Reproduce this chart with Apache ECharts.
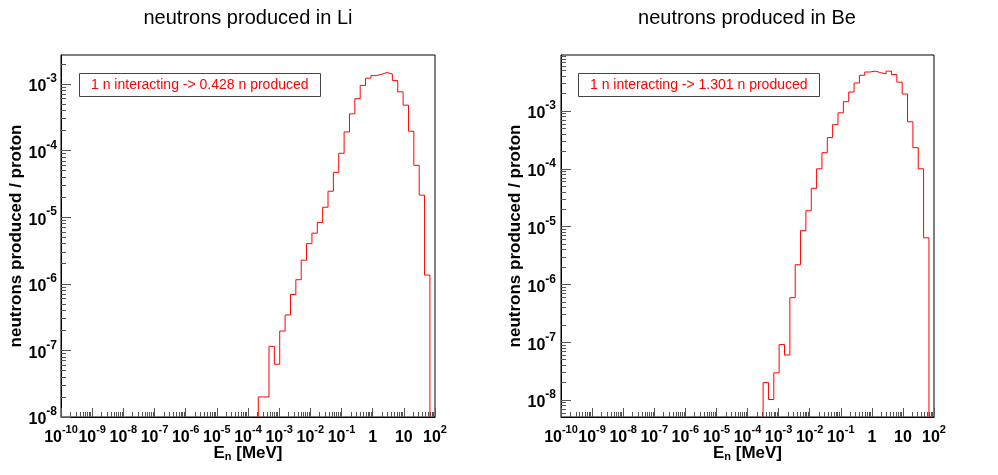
<!DOCTYPE html>
<html>
<head>
<meta charset="utf-8">
<script src="https://cdn.jsdelivr.net/npm/echarts@6/dist/echarts.min.js"></script>
<style>
html,body{margin:0;padding:0;background:#fff;}
#chart{width:998px;height:475px;}
</style>
</head>
<body>
<div id="chart"></div>
<script>
// ---------------- data ----------------
const TITLE_LI = 'neutrons produced in Li';
const TITLE_BE = 'neutrons produced in Be';
const LI_RATIO = '0.428';
const BE_RATIO = '1.301';
const X_NAME_MAIN = 'E';
const X_NAME_SUB = 'n';
const X_NAME_UNIT = ' [MeV]';
const Y_NAME = 'neutrons produced / proton';

// bin edges in MeV (log-spaced histogram)
const EDGES = [2.138e-4, 3.177e-4, 4.721e-4, 7.015e-4, 1.042e-3, 1.549e-3, 2.307e-3, 3.428e-3,
  5.093e-3, 7.568e-3, 1.125e-2, 1.671e-2, 2.483e-2, 3.690e-2, 5.483e-2, 8.16e-2,
  0.1213, 0.1803, 0.2679, 0.3981, 0.5916, 0.879, 1.306, 1.941,
  2.884, 4.29, 6.38, 9.48, 14.09, 20.94, 31.12, 46.24, 68.7];

const LI_VALUES = [2.0e-8, 2.0e-8, 1.15e-7, 6.2e-8, 1.95e-7, 3.4e-7, 6.9e-7, 1.15e-6,
  2.26e-6, 4.0e-6, 5.75e-6, 8.3e-6, 1.41e-5, 2.45e-5, 4.7e-5, 9.1e-5,
  1.9e-4, 3.55e-4, 6.0e-4, 9.5e-4, 1.22e-3, 1.33e-3, 1.40e-3, 1.48e-3,
  1.41e-3, 1.12e-3, 7.6e-4, 4.8e-4, 1.95e-4, 6.0e-5, 2.14e-5, 1.35e-6];

const BE_VALUES = [0, 2.0e-8, 1.02e-8, 2.95e-8, 9.1e-8, 6.0e-8, 5.9e-7, 2.19e-6,
  8.5e-6, 1.88e-5, 4.6e-5, 1.0e-4, 1.9e-4, 3.47e-4, 5.8e-4, 9.3e-4,
  1.45e-3, 2.13e-3, 3.05e-3, 4.15e-3, 4.73e-3, 4.9e-3, 4.6e-3, 4.4e-3,
  4.9e-3, 4.27e-3, 3.16e-3, 1.97e-3, 6.5e-4, 2.32e-4, 1.0e-4, 6.4e-6];

// axis ranges (exponents of 10) and tick labels
const X_RANGE = [-10, 2];
const X_TICK_EXP = [-10, -9, -8, -7, -6, -5, -4, -3, -2, -1, 0, 1, 2];
const Y_RANGE_LI = [-8, -2.566];
const Y_RANGE_BE = [-8.294, -2.031];
const Y_TICK_EXP = [-8, -7, -6, -5, -4, -3];

// ---------------- helpers ----------------
const FONT = '"Liberation Sans", Arial, Helvetica, sans-serif';
function richSet(base, sup) {
  return {
    b: {fontFamily: FONT, fontSize: base, fontWeight: 'bold', color: '#000', lineHeight: 22, verticalAlign: 'bottom'},
    s: {fontFamily: FONT, fontSize: sup, fontWeight: 'bold', color: '#000', lineHeight: sup, verticalAlign: 'top'}
  };
}
function powLabel(v) {
  const e = Math.round(v);
  if (e === 0) return '{b|1}';
  if (e === 1) return '{b|10}';
  return '{b|10}{s|' + e + '}';
}
function minorList(range) {
  const out = [];
  for (let n = Math.floor(range[0]); n < Math.ceil(range[1]); n++) {
    for (let k = 2; k <= 9; k++) {
      const v = n + Math.log10(k);
      if (v >= range[0] && v <= range[1]) out.push(v);
    }
  }
  return out;
}
function stepPoints(edges, vals, floor) {
  const pts = [];
  for (let i = 0; i < vals.length; i++) {
    const v = vals[i];
    if (pts.length === 0) {
      if (!(v > 0)) continue;
      pts.push([edges[i], floor]);
    }
    const y = v > 0 ? v : floor;
    pts.push([edges[i], y]);
    pts.push([edges[i + 1], y]);
  }
  pts.push([edges[edges.length - 1], floor]);
  return pts;
}
const TICK_COLOR = '#555';

function xAxes(gi) {
  return [
    {type: 'log', gridIndex: gi, min: Math.pow(10, X_RANGE[0]), max: Math.pow(10, X_RANGE[1]), show: false},
    {type: 'value', gridIndex: gi, min: X_RANGE[0], max: X_RANGE[1], position: 'bottom',
      axisLine: {show: true, onZero: false, lineStyle: {color: '#000', width: 1}},
      splitLine: {show: false},
      axisTick: {show: true, inside: true, length: 9, customValues: X_TICK_EXP, lineStyle: {color: TICK_COLOR}},
      axisLabel: {show: true, customValues: X_TICK_EXP, margin: 7, formatter: powLabel, rich: richSet(16, 11),
        hideOverlap: false, showMinLabel: true, showMaxLabel: true},
      name: '{e|' + X_NAME_MAIN + '}{n|' + X_NAME_SUB + '}{e|' + X_NAME_UNIT + '}',
      nameLocation: 'middle', nameGap: 25, nameMoveOverlap: false,
      nameTextStyle: {rich: {
        e: {fontFamily: FONT, fontSize: 17, fontWeight: 'bold', color: '#000', lineHeight: 20, verticalAlign: 'bottom'},
        n: {fontFamily: FONT, fontSize: 11, fontWeight: 'bold', color: '#000', lineHeight: 11, verticalAlign: 'bottom'}
      }}
    },
    {type: 'value', gridIndex: gi, min: X_RANGE[0], max: X_RANGE[1], position: 'bottom',
      axisLine: {show: false, onZero: false}, splitLine: {show: false}, axisLabel: {show: false},
      axisTick: {show: true, inside: true, length: 5, customValues: minorList(X_RANGE), lineStyle: {color: TICK_COLOR}}
    }
  ];
}
function yAxes(gi, range, margin) {
  return [
    {type: 'log', gridIndex: gi, min: Math.pow(10, range[0]), max: Math.pow(10, range[1]), show: false},
    {type: 'value', gridIndex: gi, min: range[0], max: range[1], position: 'left',
      axisLine: {show: true, onZero: false, lineStyle: {color: '#000', width: 1}},
      splitLine: {show: false},
      axisTick: {show: true, inside: true, length: 10, customValues: Y_TICK_EXP, lineStyle: {color: TICK_COLOR}},
      axisLabel: {show: true, customValues: Y_TICK_EXP, margin: margin, formatter: powLabel, rich: richSet(16, 12),
        hideOverlap: false, showMinLabel: true, showMaxLabel: true},
      name: Y_NAME, nameLocation: 'middle', nameGap: 31, nameRotate: 90,
      nameTextStyle: {fontFamily: FONT, fontSize: 17, fontWeight: 'bold', color: '#000'}
    },
    {type: 'value', gridIndex: gi, min: range[0], max: range[1], position: 'left',
      axisLine: {show: false, onZero: false}, splitLine: {show: false}, axisLabel: {show: false},
      axisTick: {show: true, inside: true, length: 5, customValues: minorList(range), lineStyle: {color: TICK_COLOR}}
    }
  ];
}
function infoBox(text, left) {
  return {
    text: text, left: left, top: 73,
    padding: [5, 12, 5, 12], borderColor: '#444', borderWidth: 1, backgroundColor: '#fff',
    textStyle: {color: '#ff0000', fontSize: 14, fontWeight: 'normal', fontFamily: FONT, lineHeight: 14}
  };
}
function titleText(text, cx) {
  return {type: 'text', x: cx, y: 18, z: 10,
    style: {text: text, font: '20px ' + FONT, fill: '#000',
      align: 'center', verticalAlign: 'middle', textAlign: 'center', textVerticalAlign: 'middle'}};
}

// ---------------- chart ----------------
const chart = echarts.init(document.getElementById('chart'), null, {renderer: 'canvas'});
const floorLi = Math.pow(10, Y_RANGE_LI[0]);
const floorBe = Math.pow(10, Y_RANGE_BE[0]);

const option = {
  animation: false,
  backgroundColor: '#fff',
  title: [
    infoBox('1 n interacting -> ' + LI_RATIO + ' n produced', 79),
    infoBox('1 n interacting -> ' + BE_RATIO + ' n produced', 578)
  ],
  graphic: [titleText(TITLE_LI, 248), titleText(TITLE_BE, 747)],
  grid: [
    {left: 61, top: 55, width: 374, height: 362, show: true, borderColor: '#000', borderWidth: 1, backgroundColor: 'transparent', containLabel: false},
    {left: 561, top: 55, width: 373, height: 362, show: true, borderColor: '#000', borderWidth: 1, backgroundColor: 'transparent', containLabel: false}
  ],
  xAxis: xAxes(0).concat(xAxes(1)),
  yAxis: yAxes(0, Y_RANGE_LI, 4).concat(yAxes(1, Y_RANGE_BE, 5)),
  series: [
    {type: 'line', name: 'Li', xAxisIndex: 0, yAxisIndex: 0, data: stepPoints(EDGES, LI_VALUES, floorLi),
      showSymbol: false, symbol: 'none', clip: true, lineStyle: {color: '#ff0000', width: 1}, z: 5},
    {type: 'line', name: 'Be', xAxisIndex: 3, yAxisIndex: 3, data: stepPoints(EDGES, BE_VALUES, floorBe),
      showSymbol: false, symbol: 'none', clip: true, lineStyle: {color: '#ff0000', width: 1}, z: 5}
  ]
};
chart.setOption(option);
</script>
</body>
</html>
